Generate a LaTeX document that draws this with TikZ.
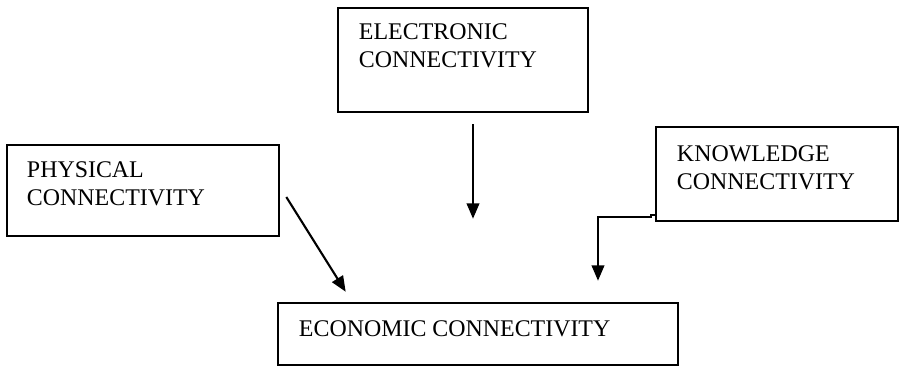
\documentclass[tikz,border=0pt]{standalone}
\usepackage{fontspec}
\setmainfont{Liberation Serif}
\usetikzlibrary{arrows.meta, positioning}

\begin{document}
\begin{tikzpicture}[
    x=0.025cm, y=-0.025cm,
    box/.style={draw, line width=1.8pt, inner sep=0pt},
    boxtext/.style={anchor=north west, inner sep=0pt, align=left, font=\fontsize{17}{20}\selectfont},
    flow/.style={-{Triangle[length=11pt, width=9pt]}, line width=1.5pt}
]
    \useasboundingbox (0,0) rectangle (900,367);

    \node[box, minimum width=6.25cm, minimum height=2.6cm] (electronic) at (463,60) {};
    \node[box, minimum width=6.8cm, minimum height=2.275cm] (physical) at (143,190.5) {};
    \node[box, minimum width=6.05cm, minimum height=2.35cm] (knowledge) at (777,174) {};
    \node[box, minimum width=10cm, minimum height=1.55cm] (economic) at (478,334) {};

    \node[boxtext] (electronic-text) at ([shift={(22,17)}]electronic.north west) {ELECTRONIC\\CONNECTIVITY};
    \node[boxtext] (physical-text) at ([shift={(21,18)}]physical.north west) {PHYSICAL\\CONNECTIVITY};
    \node[boxtext] (knowledge-text) at ([shift={(22,20)}]knowledge.north west) {KNOWLEDGE\\CONNECTIVITY};
    \node[boxtext] (economic-text) at ([shift={(22,19)}]economic.north west) {ECONOMIC CONNECTIVITY};

    \coordinate (electronic-end) at ([shift={(-5,-83)}]economic.north);
    \coordinate (physical-end) at ([shift={(69,-10)}]economic.north west);
    \coordinate (knowledge-end) at ([shift={(120,-21)}]economic.north);

    \draw[flow] ([shift={(10,11)}]electronic.south) -- (electronic-end);
    \draw[flow] ([shift={(6,6.5)}]physical.east) -- (physical-end);
    \draw[flow] ([shift={(0,-7)}]knowledge.south west) -- ++(-4,0) -- ++(0,2) -| (knowledge-end);
\end{tikzpicture}
\end{document}
